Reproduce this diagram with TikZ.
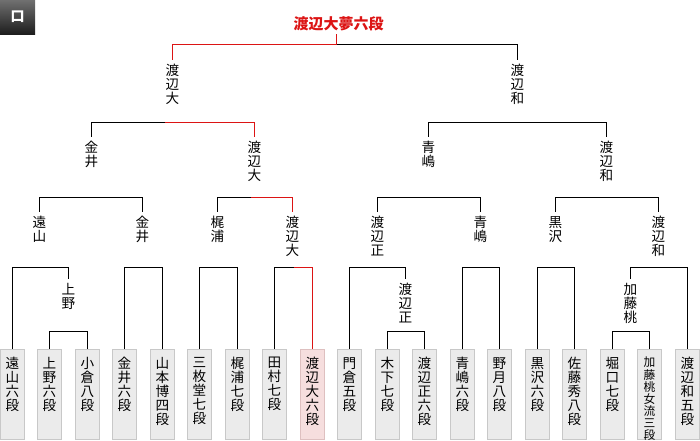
\documentclass[tikz,border=0pt]{standalone}
\usepackage{fontspec}
\newfontfamily\jp{Noto Sans CJK JP}
\usetikzlibrary{calc}
\definecolor{wred}{RGB}{220,20,20}
\definecolor{boxfill}{RGB}{235,235,235}
\definecolor{boxline}{RGB}{200,200,200}
\definecolor{winfill}{RGB}{246,222,222}
\definecolor{winline}{RGB}{222,192,192}
\definecolor{badgetop}{RGB}{112,112,112}
\definecolor{badgebot}{RGB}{30,30,30}
\begin{document}
\begin{tikzpicture}[x=0.75pt,y=-0.75pt,
  ln/.style={line width=0.75pt, black},
  rd/.style={line width=0.75pt, wred},
  lab/.style={font=\jp\fontsize{10.2}{10.5}\selectfont, align=center, anchor=north, inner xsep=0pt, inner ysep=3.4pt},
  leafbox/.style={draw=boxline, fill=boxfill, line width=0.75pt, minimum width=18pt, minimum height=67.5pt, inner sep=0pt, anchor=north},
  winbox/.style={leafbox, draw=winline, fill=winfill},
  leaftext/.style={font=\jp\fontsize{10.2}{10.5}\selectfont, align=center, anchor=north, inner sep=0pt},
  smalltext/.style={font=\jp\fontsize{8.8}{9.1}\selectfont, align=center, anchor=north, inner sep=0pt},
  badge/.style={minimum width=26.25pt, minimum height=25.5pt, inner sep=0pt, top color=badgetop, bottom color=badgebot, text=white, font=\jp\bfseries\fontsize{10.5}{12}\selectfont},
]
\useasboundingbox (0,0) rectangle (700,440);

% badge
\node[badge] (badge) at (17.5,17) {口};

\begin{scope}[shift={(0.5,0.5)}]
% winner
\node[font=\jp\bfseries\fontsize{11.25}{13}\selectfont, text=wred, anchor=south, inner sep=1.5pt] (w) at (338,33) {渡辺大夢六段};

% leaves
\foreach \x/\i/\t in {12/0/遠\\山\\六\\段,49/1/上\\野\\六\\段,87/2/小\\倉\\八\\段,124/3/金\\井\\六\\段,162/4/山\\本\\博\\四\\段,199/5/三\\枚\\堂\\七\\段,237/6/梶\\浦\\七\\段,274/7/田\\村\\七\\段,349/9/門\\倉\\五\\段,387/10/木\\下\\七\\段,424/11/渡\\辺\\正\\六\\段,462/12/青\\嶋\\六\\段,499/13/野\\月\\八\\段,537/14/黒\\沢\\六\\段,574/15/佐\\藤\\秀\\八\\段,612/16/堀\\口\\七\\段,687/18/渡\\辺\\和\\五\\段}{
  \node[leafbox] (l\i) at (\x,348) {};
  \node[leaftext] (t\i) at ($(l\i.north)+(0,8.5)$) {\t};
}
\node[winbox] (l8) at (312,348) {};
\node[leaftext] (t8) at ($(l8.north)+(0,8.5)$) {渡\\辺\\大\\六\\段};
\node[leafbox] (l17) at (649,348) {};
\node[smalltext] (t17) at ($(l17.north)+(0,8.5)$) {加\\藤\\桃\\女\\流\\三\\段};

% sub-level labels
\node[lab] (s1) at (68,278) {上\\野};
\node[lab] (s2) at (405,278) {渡\\辺\\正};
\node[lab] (s3) at (630,278) {加\\藤\\桃};

% level 3 labels
\node[lab] (a1) at (39,211) {遠\\山};
\node[lab] (a2) at (142,211) {金\\井};
\node[lab] (a3) at (217,211) {梶\\浦};
\node[lab] (a4) at (292,211) {渡\\辺\\大};
\node[lab] (a5) at (377,211) {渡\\辺\\正};
\node[lab] (a6) at (480,211) {青\\嶋};
\node[lab] (a7) at (555,211) {黒\\沢};
\node[lab] (a8) at (658,211) {渡\\辺\\和};

% level 2 labels
\node[lab] (b1) at (91,136) {金\\井};
\node[lab] (b2) at (254,136) {渡\\辺\\大};
\node[lab] (b3) at (428,136) {青\\嶋};
\node[lab] (b4) at (606,136) {渡\\辺\\和};

% level 1 labels
\node[lab] (c1) at (172,59) {渡\\辺\\大};
\node[lab] (c2) at (517,59) {渡\\辺\\和};

% junctions
\coordinate (jw) at (336,44);
\coordinate (jb1) at (164,122);
\coordinate (jb2) at (517,122);
\coordinate (ja1) at (90,197);
\coordinate (ja2) at (250,197);
\coordinate (ja3) at (428,197);
\coordinate (ja4) at (606,197);
\coordinate (j1) at (40,267);
\coordinate (j2) at (143,267);
\coordinate (j3) at (218,267);
\coordinate (j4) at (293,267);
\coordinate (j5) at (378,267);
\coordinate (j6) at (480,267);
\coordinate (j7) at (555,267);
\coordinate (j8) at (658,267);
\coordinate (k1) at (68,331);
\coordinate (k2) at (405,331);
\coordinate (k3) at (630,331);

% top
\draw[rd] (c1.north) |- (jw);
\draw[ln] (jw) -| (c2.north);
\draw[rd] (jw) -- (jw |- w.south);
% level 2
\draw[ln] (b1.north) |- (jb1);
\draw[rd] (jb1) -| (b2.north);
\draw[ln] (b3.north) |- (jb2) -| (b4.north);
% level 3
\draw[ln] (a1.north) |- (ja1) -| (a2.north);
\draw[ln] (a3.north) |- (ja2);
\draw[rd] (ja2) -| (a4.north);
\draw[ln] (a5.north) |- (ja3) -| (a6.north);
\draw[ln] (a7.north) |- (ja4) -| (a8.north);
% level 4
\draw[ln] (l0.north) |- (j1) -| (s1.north);
\draw[ln] (l3.north) |- (j2) -| (l4.north);
\draw[ln] (l5.north) |- (j3) -| (l6.north);
\draw[ln] (l7.north) |- (j4);
\draw[rd] (j4) -| (l8.north);
\draw[ln] (l9.north) |- (j5) -| (s2.north);
\draw[ln] (l12.north) |- (j6) -| (l13.north);
\draw[ln] (l14.north) |- (j7) -| (l15.north);
\draw[ln] (s3.north) |- (j8) -| (l18.north);
% sub level
\draw[ln] (l1.north) |- (k1) -| (l2.north);
\draw[ln] (l10.north) |- (k2) -| (l11.north);
\draw[ln] (l16.north) |- (k3) -| (l17.north);
\end{scope}
\end{tikzpicture}
\end{document}
